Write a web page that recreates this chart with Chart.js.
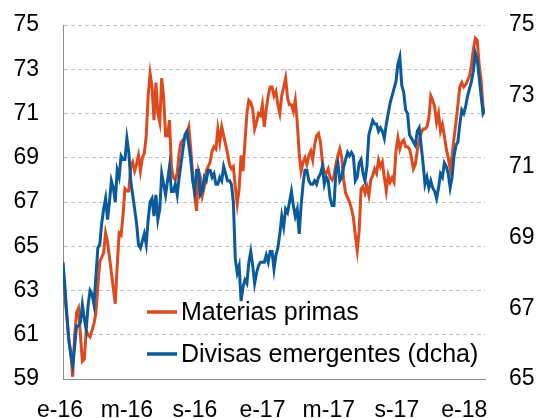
<!DOCTYPE html>
<html lang="es">
<head>
  <meta charset="UTF-8">
  <title>Materias primas y divisas emergentes</title>
  <script src="https://cdn.jsdelivr.net/npm/chart.js"></script>
  <style>
    html, body { margin: 0; padding: 0; background: #fff; }
    #wrap { width: 536px; height: 418px; }
  </style>
</head>
<body>
  <div id="wrap"><canvas id="chart" width="536" height="418"></canvas></div>

  <script>
    // Twice-weekly readings, first point = start of January 2016
    const dayStep = 3.5;
    const tickDays = [0, 121, 244, 366, 486, 609, 731];
    const tickLabels = ['e-16', 'm-16', 's-16', 'e-17', 'm-17', 's-17', 'e-18'];
    const leftTicks = [59, 61, 63, 65, 67, 69, 71, 73, 75];
    const rightTicks = [65, 67, 69, 71, 73, 75];

    // Materias primas (left axis)
    const materias = [
      63.5, 62.8, 61.8, 60.8, 60.2, 59.1, 60.9, 62.0, 62.2, 61.0,
      59.8, 59.9, 61.2, 61.0, 60.9, 61.2, 61.5, 62.0, 63.2, 64.3,
      64.5, 64.7, 65.6, 65.2, 64.5, 63.8, 63.1, 62.4, 64.1, 65.6,
      65.5, 66.4, 67.6, 67.5, 67.5, 68.6, 68.8, 68.4, 68.7, 69.1,
      68.4, 69.0, 69.2, 70.0, 71.8, 72.8, 72.2, 70.7, 72.4, 71.0,
      70.6, 72.6, 71.7, 70.0, 70.0, 70.7, 68.6, 68.1, 68.0, 68.3,
      69.2, 69.7, 69.8, 69.9, 70.1, 70.4, 69.4, 68.2, 67.3, 66.6,
      68.4, 68.1, 67.3, 67.7, 68.4, 68.6, 68.8, 69.3, 69.5, 69.4,
      70.3, 69.7, 70.4, 70.0, 69.6, 69.2, 68.7, 68.5, 68.6, 67.7,
      66.9, 67.6, 69.1, 68.4, 69.7, 71.0, 71.6, 71.5, 71.2, 70.3,
      70.6, 71.0, 70.9, 71.4, 70.4, 71.2, 71.8, 72.2, 72.2, 71.8,
      72.0, 71.4, 71.0, 71.8, 72.2, 72.6, 71.7, 71.4, 71.4, 71.1,
      71.6, 70.6, 69.2, 68.4, 68.8, 69.0, 68.7, 69.1, 69.3, 68.9,
      69.6, 70.0, 70.1, 69.7, 68.8, 68.3, 68.3, 68.5, 68.1, 68.0,
      68.2, 68.7, 69.1, 69.4, 69.0, 68.0, 67.4, 67.2, 67.0, 66.7,
      66.3, 65.5, 64.8, 65.7, 67.6, 67.7, 67.4, 67.7, 67.3, 68.0,
      68.2, 68.5, 68.3, 68.9, 68.6, 68.8, 68.1, 67.5, 68.2, 67.9,
      68.1, 67.9, 69.3, 69.9, 69.4, 69.7, 69.8, 69.5, 69.5, 69.4,
      69.0, 68.5, 68.7, 69.3, 69.8, 70.1, 70.3, 70.3, 70.4, 70.8,
      71.8, 71.6, 71.3, 70.6, 71.0, 70.2, 70.5, 70.0, 69.4, 69.0,
      68.5, 69.1, 69.9, 70.6, 71.4, 72.2, 72.4, 72.2, 72.3, 72.5,
      72.7, 73.2, 73.9, 74.4, 74.3, 73.2, 72.5, 71.3, 71.0
    ];

    // Divisas emergentes (right axis)
    const divisas = [
      68.3, 67.6, 66.8, 66.1, 65.7, 65.4, 65.9, 66.5, 66.5, 66.6,
      67.1, 66.7, 66.4, 67.1, 67.5, 67.4, 67.1, 67.9, 68.7, 68.8,
      69.4, 69.8, 70.1, 69.5, 70.0, 70.6, 70.4, 70.0, 70.9, 70.7,
      71.3, 71.2, 71.2, 71.8, 71.4, 70.6, 70.2, 69.8, 69.4, 68.8,
      68.7, 68.9, 69.1, 68.8, 69.5, 70.0, 70.1, 69.6, 70.2, 69.5,
      69.8, 70.8, 70.5, 70.2, 70.6, 71.0, 70.3, 70.3, 70.5, 70.2,
      70.7, 71.1, 71.5, 71.9, 72.0, 71.6, 71.2, 70.6, 70.3, 70.9,
      70.9, 70.2, 70.3, 70.7, 70.6, 70.9, 70.9, 70.7, 70.8, 70.5,
      70.5, 70.7, 70.6, 71.0, 70.8, 70.6, 70.6, 70.5, 70.0, 68.4,
      68.0, 68.2, 67.2, 67.6, 67.8, 67.7, 68.3, 68.6, 68.2, 67.7,
      68.0, 68.2, 68.3, 68.3, 68.3, 68.5, 68.3, 68.6, 68.6, 68.1,
      68.5, 68.7, 69.1, 69.6, 69.3, 69.8, 69.7, 70.0, 70.3, 69.9,
      69.6, 69.8, 69.1, 69.9, 70.5, 70.9, 70.9, 70.6, 70.5, 70.5,
      70.6, 70.5, 70.7, 70.8, 71.0, 70.5, 70.7, 70.6, 70.1, 69.9,
      69.9, 70.9, 71.1, 70.6, 70.7, 71.0, 71.2, 71.4, 71.3, 71.4,
      71.3, 70.6, 70.7, 71.1, 71.2, 70.8, 70.6, 71.0, 71.9, 72.1,
      72.3, 72.2, 72.2, 72.0, 72.1, 72.0, 71.8, 72.2, 72.5, 72.8,
      73.0, 73.2, 73.4, 73.9, 74.1, 73.3, 73.1, 72.6, 72.5, 71.9,
      71.8, 71.7, 71.6, 72.0, 72.1, 71.6, 71.1, 70.5, 70.7, 70.4,
      70.6, 70.4, 70.3, 70.1, 70.4, 70.8, 70.7, 71.1, 71.0, 70.8,
      70.4, 70.7, 71.3, 71.6, 71.7, 72.2, 72.6, 72.5, 72.7, 73.0,
      73.2, 73.4, 73.7, 74.2, 74.0, 73.5, 73.0, 72.5, 72.6
    ];

    const orange = '#DC4A1E';
    const blue = '#0A5A9C';
    const fontFamily = '"Liberation Sans", Arial, sans-serif';

    const toPoints = arr => arr.map((v, i) => ({ x: i * dayStep, y: v }));

    // y axes: fixed width, and no extra top/bottom padding from tick padding
    const fixAxis = w => s => { s.width = w; s.paddingTop = 0; s.paddingBottom = 0; };

    // legend drawn inside the plot
    const innerLegend = {
      id: 'innerLegend',
      afterDatasetsDraw(chart) {
        const { ctx, chartArea } = chart;
        const items = [chart.data.datasets[1], chart.data.datasets[0]];
        ctx.save();
        ctx.font = '25px ' + fontFamily;
        ctx.textBaseline = 'middle';
        ctx.fillStyle = '#000';
        items.forEach((ds, i) => {
          const y = chartArea.top + 287 + i * 42;
          const x = chartArea.left + 84;
          ctx.strokeStyle = ds.borderColor;
          ctx.lineWidth = 3.5;
          ctx.beginPath();
          ctx.moveTo(x, y);
          ctx.lineTo(x + 30, y);
          ctx.stroke();
          ctx.fillText(ds.label, x + 34, y + 1);
        });
        ctx.restore();
      }
    };

    new Chart(document.getElementById('chart'), {
      type: 'line',
      data: {
        datasets: [
          {
            label: 'Divisas emergentes (dcha)',
            data: toPoints(divisas),
            yAxisID: 'y1',
            borderColor: blue,
            borderWidth: 3,
            pointRadius: 0,
            tension: 0,
            order: 0
          },
          {
            label: 'Materias primas',
            data: toPoints(materias),
            yAxisID: 'y',
            borderColor: orange,
            borderWidth: 3,
            pointRadius: 0,
            tension: 0,
            order: 1
          }
        ]
      },
      options: {
        responsive: false,
        animation: false,
        layout: { padding: { top: 25, left: 0, right: 0, bottom: 0 } },
        plugins: { legend: { display: false }, tooltip: { enabled: false } },
        scales: {
          x: {
            type: 'linear',
            min: 0,
            max: (materias.length - 1) * dayStep,
            afterBuildTicks: s => { s.ticks = tickDays.map(v => ({ value: v })); },
            afterFit: s => { s.height = 39; },
            ticks: {
              autoSkip: false,
              maxRotation: 0,
              padding: 10,
              labelOffset: -3,
              color: '#000',
              font: { family: fontFamily, size: 23 },
              callback: v => tickLabels[tickDays.indexOf(v)]
            },
            grid: { display: false },
            border: { display: true, color: '#8c8c8c', width: 1 }
          },
          y: {
            position: 'left',
            min: leftTicks[0],
            max: leftTicks[leftTicks.length - 1],
            afterBuildTicks: s => { s.ticks = leftTicks.map(v => ({ value: v })); },
            afterFit: fixAxis(63),
            ticks: {
              padding: 24,
              color: '#000',
              font: { family: fontFamily, size: 23 }
            },
            grid: { color: '#c0c0c0', lineWidth: 1, drawTicks: false },
            border: { display: true, color: '#8c8c8c', width: 1, dash: [4, 3] }
          },
          y1: {
            position: 'right',
            min: rightTicks[0],
            max: rightTicks[rightTicks.length - 1],
            afterBuildTicks: s => { s.ticks = rightTicks.map(v => ({ value: v })); },
            afterFit: fixAxis(51),
            ticks: {
              padding: 24,
              color: '#000',
              font: { family: fontFamily, size: 23 }
            },
            grid: { display: false, drawTicks: false },
            border: { display: false }
          }
        }
      },
      plugins: [innerLegend]
    });
  </script>
</body>
</html>
